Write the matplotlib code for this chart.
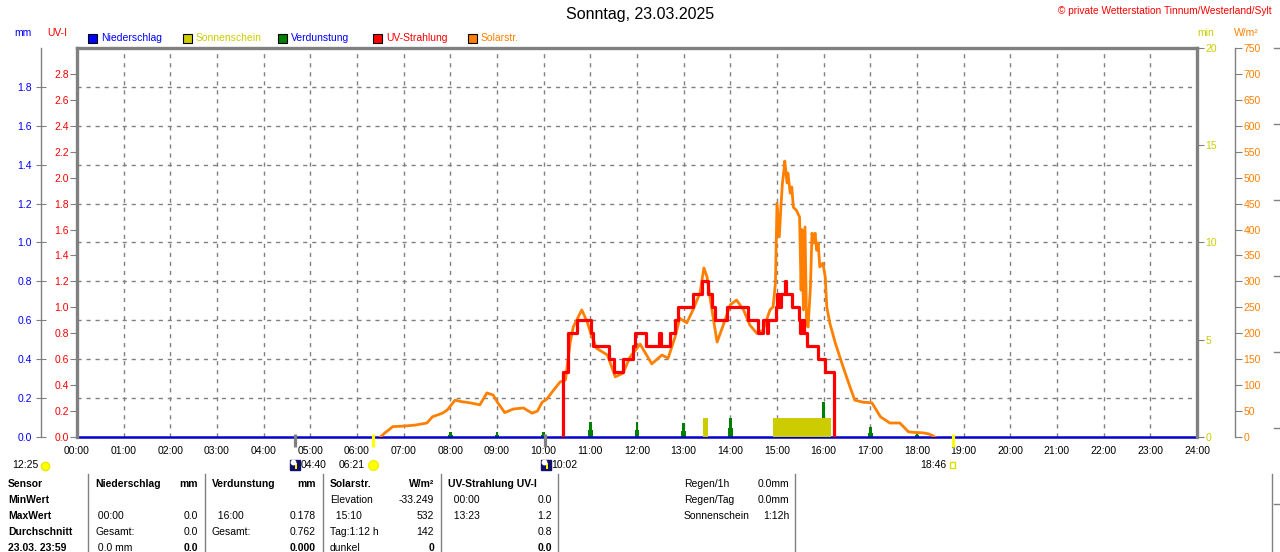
import matplotlib
matplotlib.use("Agg")
import matplotlib.pyplot as plt
import matplotlib.transforms as mtransforms
from matplotlib.lines import Line2D
from matplotlib.patches import Rectangle

plt.rcParams['font.family'] = ['Liberation Sans', 'DejaVu Sans']

# ---------------- data ----------------
hours = list(range(25))
hour_labels = ["%02d:00" % h for h in hours]

uv_times = ['10:24', '10:25', '10:31', '10:43', '11:01', '11:04', '11:24', '11:31', '11:42',
            '11:55', '11:58', '12:11', '12:28', '12:31', '12:42', '12:49', '12:53', '13:12',
            '13:23', '13:31', '13:36', '13:40', '13:56', '14:23', '14:35', '14:42', '14:47',
            '14:49', '14:59', '15:00', '15:03', '15:05', '15:10', '15:12', '15:19', '15:28',
            '15:30', '15:32', '15:35', '15:38', '15:53', '16:02', '16:13', '16:14']
uv_values = [0.0, 0.5, 0.8, 0.9, 0.8, 0.7, 0.6, 0.5, 0.6,
             0.7, 0.8, 0.7, 0.8, 0.7, 0.8, 0.9, 1.0, 1.1,
             1.2, 1.1, 1.0, 0.9, 1.0, 0.9, 0.8, 0.9, 0.8,
             0.9, 1.0, 1.1, 1.0, 1.1, 1.2, 1.1, 1.0, 0.9,
             0.8, 0.9, 0.8, 0.7, 0.6, 0.5, 0.0, 0.0]

solar_times = ['06:30', '06:36', '06:46', '07:00', '07:15', '07:30', '07:37', '07:50', '07:56',
               '08:06', '08:15', '08:25', '08:38', '08:47', '08:55', '09:01', '09:10', '09:21',
               '09:34', '09:45', '09:52', '09:58', '10:04', '10:11', '10:21', '10:28', '10:34',
               '10:38', '10:49', '10:56', '11:00', '11:08', '11:22', '11:32', '11:42', '11:51',
               '12:04', '12:19', '12:32', '12:40', '12:49', '12:55', '13:04', '13:12', '13:21',
               '13:26', '13:30', '13:34', '13:39', '13:43', '13:50', '14:00', '14:08', '14:17',
               '14:25', '14:34', '14:42', '14:51', '14:55', '14:58', '15:00', '15:03', '15:05',
               '15:07', '15:09', '15:10', '15:13', '15:14', '15:17', '15:19', '15:21', '15:25',
               '15:29', '15:31', '15:32', '15:34', '15:36', '15:38', '15:40', '15:43', '15:45',
               '15:47', '15:49', '15:51', '15:53', '15:55', '15:59', '16:02', '16:04', '16:08',
               '16:15', '16:25', '16:34', '16:40', '16:51', '17:02', '17:13', '17:25', '17:38',
               '17:49', '17:55', '18:08', '18:15', '18:21', '18:23']
solar_values = [0, 8, 20, 21, 23, 27, 39, 46, 52,
                71, 68, 66, 62, 85, 81, 66, 47, 54,
                56, 46, 50, 67, 73, 87, 106, 110, 181,
                212, 245, 222, 202, 171, 158, 116, 123, 154,
                179, 141, 158, 152, 193, 229, 220, 245, 278,
                326, 309, 268, 220, 183, 212, 255, 264, 245,
                216, 200, 206, 245, 251, 297, 451, 386, 443,
                490, 515, 532, 490, 509, 470, 482, 443, 437,
                424, 283, 400, 245, 405, 219, 212, 289, 393,
                374, 393, 360, 374, 328, 335, 309, 251, 219,
                181, 135, 96, 71, 67, 66, 39, 27, 27,
                10, 9, 8, 6, 2, 0]

evap_times = ['08:00', '09:00', '10:00', '11:00', '12:00', '13:00', '14:00', '15:00',
              '16:00', '17:00', '18:00']
evap_values = [0.025, 0.025, 0.025, 0.076, 0.076, 0.074, 0.100, 0.100, 0.178, 0.050, 0.025]

sun_start = ['13:25', '14:55']
sun_end = ['13:31', '16:10']
sun_minutes = [1.0, 1.0]

rain_times = ['00:00', '24:00']
rain_values = [0.0, 0.0]

astro_times = ['04:40', '06:21', '10:02', '18:46']
astro_kinds = ['moonrise', 'sunrise', 'moonset', 'sunset']

# ---------------- helpers ----------------
W, H = 1280, 552


def hm(s):
    h, m = s.split(':')
    return int(h) + int(m) / 60.0


def fx(x):
    return x / W


def fy(y):
    return 1 - y / H


GRAY = '#808080'
RED = '#FF0000'
BLUE = '#0000FF'
OLIVE = '#CCCC00'
ORANGE = '#FF8000'
GREEN = '#008000'
FS = 7.5

fig = plt.figure(figsize=(12.8, 5.52), dpi=100)
fig.patch.set_facecolor('white')

L, R, T, B = 77, 1197, 48, 437
rect = [fx(L), fy(B), (R - L) / W, (B - T) / H]

ax_mm = fig.add_axes(rect, zorder=1)
ax_min = fig.add_axes(rect, zorder=2, sharex=ax_mm)
ax_w = fig.add_axes(rect, zorder=3, sharex=ax_mm)
ax = fig.add_axes(rect, zorder=4, sharex=ax_mm)
for a in (ax_mm, ax_min, ax_w, ax):
    a.patch.set_visible(False)
    for s in a.spines.values():
        s.set_visible(False)
    a.set_xlim(0, 24)
    a.tick_params(axis='x', which='both', length=0, labelbottom=False)

# grid (on lowest axes)
ax_mm.set_ylim(0, 2.0)
for h in range(1, 24):
    ax_mm.axvline(h, color=GRAY, lw=1, ls=(0, (3, 3.5)), zorder=0)
for v in [0.2 * i for i in range(1, 10)]:
    ax_mm.axhline(v, color=GRAY, lw=1, ls=(0, (3, 3.5)), zorder=0)

# mm axis on left at x=41
ax_mm.yaxis.set_ticks_position('left')
ax_mm.spines['left'].set_visible(True)
ax_mm.spines['left'].set_position(('axes', (41 - L) / (R - L)))
ax_mm.spines['left'].set_color(GRAY)
ax_mm.spines['left'].set_linewidth(1)
ax_mm.set_yticks([0.2 * i for i in range(10)])
ax_mm.set_yticklabels(["%.1f" % (0.2 * i) for i in range(10)])
ax_mm.tick_params(axis='y', direction='inout', length=7, color=GRAY, labelcolor=BLUE,
                  labelsize=FS, pad=3)

# evaporation spikes
ev_x = [hm(t) for t in evap_times]
ax_mm.bar(ev_x, [v * 0.45 for v in evap_values], width=0.10, color=GREEN, zorder=3)
ax_mm.bar(ev_x, evap_values, width=0.055, color=GREEN, zorder=3)

# rain line
ax_mm.plot([hm(t) for t in rain_times], rain_values, color='#0000CC', lw=1.8, zorder=6,
           clip_on=False, solid_capstyle='butt')

# sunshine (min axis on right spine)
ax_min.set_ylim(0, 20)
ax_min.bar([hm(s) for s in sun_start], sun_minutes,
           width=[hm(e) - hm(s) for s, e in zip(sun_start, sun_end)],
           align='edge', color=OLIVE, zorder=2)
ax_min.yaxis.set_ticks_position('right')
ax_min.set_yticks([0, 5, 10, 15, 20])
ax_min.tick_params(axis='y', direction='out', length=5, color=GRAY, labelcolor=OLIVE,
                   labelsize=FS, pad=1)

# solar radiation (W/m2 axis at x=1235)
ax_w.set_ylim(0, 750)
ax_w.plot([hm(t) for t in solar_times], solar_values, color=ORANGE, lw=2.0, zorder=3)
ax_w.yaxis.set_ticks_position('right')
ax_w.spines['right'].set_visible(True)
ax_w.spines['right'].set_position(('axes', (1235 - L) / (R - L)))
ax_w.spines['right'].set_color(GRAY)
ax_w.spines['right'].set_linewidth(1)
ax_w.set_yticks(list(range(0, 751, 50)))
ax_w.tick_params(axis='y', direction='out', length=5, color=GRAY, labelcolor=ORANGE,
                 labelsize=FS, pad=1)

# UV (main axis)
ax.set_ylim(0, 3.0)
ax.step([hm(t) for t in uv_times], uv_values, where='post', color=RED, lw=2.3, zorder=4)
ax.yaxis.set_ticks_position('left')
ax.set_yticks([0.2 * i for i in range(15)])
ax.set_yticklabels(["%.1f" % (0.2 * i) for i in range(15)])
ax.tick_params(axis='y', direction='out', length=5, color=GRAY, labelcolor=RED,
               labelsize=FS, pad=1)
for side in ('left', 'top', 'right'):
    ax.spines[side].set_visible(True)
    ax.spines[side].set_color(GRAY)
    ax.spines[side].set_linewidth(2.4)
ax.set_xticks(hours)
ax.set_xticklabels(hour_labels)
ax.tick_params(axis='x', labelbottom=True, labelsize=FS, pad=6.5, length=0)

# astronomical markers on x axis
trans = mtransforms.blended_transform_factory(ax.transData, ax.transAxes)
for t, k in zip(astro_times, astro_kinds):
    c = '#FFFF00' if k.startswith('sun') else GRAY
    ax.plot([hm(t), hm(t)], [0.008, -0.026], transform=trans, color=c, lw=2.3,
            clip_on=False, zorder=7, solid_capstyle='butt')

# ---------------- text ----------------
fig.text(fx(640), fy(15), "Sonntag, 23.03.2025", ha='center', va='center', fontsize=11.5)
fig.text(fx(1272), fy(11), "© private Wetterstation Tinnum/Westerland/Sylt", ha='right',
         va='center', fontsize=7.3, color=RED)

fig.text(fx(14), fy(33), "mm", color=BLUE, fontsize=FS, va='center')
fig.text(fx(47), fy(33), "UV-I", color=RED, fontsize=FS, va='center')
fig.text(fx(1197), fy(33), "min", color=OLIVE, fontsize=FS, va='center')
fig.text(fx(1234), fy(33), "W/m²", color=ORANGE, fontsize=FS, va='center')

legend = [(88, BLUE, "Niederschlag", BLUE), (183, OLIVE, "Sonnenschein", OLIVE),
          (278, GREEN, "Verdunstung", BLUE), (373, RED, "UV-Strahlung", RED),
          (468, ORANGE, "Solarstr.", ORANGE)]
for x0, fc, label, tc in legend:
    fig.patches.append(Rectangle((fx(x0), fy(43)), 9 / W, 9 / H, transform=fig.transFigure,
                                 facecolor=fc, edgecolor='black', lw=0.8))
    fig.text(fx(x0 + 13), fy(38), label, color=tc, fontsize=FS, va='center')

# right decorative axis ticks
for y in [48, 124, 200, 276, 352, 428, 504]:
    fig.lines.append(Line2D([fx(1274), fx(1280)], [fy(y), fy(y)], transform=fig.transFigure,
                            color=GRAY, lw=1))

# sun / moon info line
YI = 465
fig.text(fx(12), fy(YI), "12:25", fontsize=FS, va='center')
fig.lines.append(Line2D([fx(45)], [fy(YI + 1)], transform=fig.transFigure, marker='o',
                        markersize=6, markerfacecolor='#FFFF00', markeredgecolor='#E8E800',
                        lw=0))
for x0 in (290, 541):
    fig.patches.append(Rectangle((fx(x0), fy(YI + 5)), 10 / W, 10 / H, transform=fig.transFigure,
                                 facecolor='#10106A', edgecolor='#10106A'))
    fig.lines.append(Line2D([fx(x0 + 3)], [fy(YI - 3)], transform=fig.transFigure, marker='o',
                            markersize=3.2, markerfacecolor='white', markeredgecolor='white',
                            lw=0))
    fig.patches.append(Rectangle((fx(x0 + 5), fy(YI + 4)), 2 / W, 6 / H,
                                 transform=fig.transFigure, facecolor='#FFFF00',
                                 edgecolor='none'))
fig.text(fx(301), fy(YI), "04:40", fontsize=FS, va='center')
fig.text(fx(551), fy(YI), "10:02", fontsize=FS, va='center')
fig.text(fx(365), fy(YI), "06:21", fontsize=FS, va='center', ha='right')
fig.lines.append(Line2D([fx(373)], [fy(YI)], transform=fig.transFigure, marker='o',
                        markersize=7, markerfacecolor='#FFFF00', markeredgecolor='#F0F000',
                        lw=0))
fig.text(fx(946), fy(YI), "18:46", fontsize=FS, va='center', ha='right')
fig.patches.append(Rectangle((fx(950), fy(YI + 3)), 5 / W, 6 / H, transform=fig.transFigure,
                             facecolor='white', edgecolor='#E0E000', lw=1))

# table separators
for x0 in [88, 205, 323, 441, 558, 795, 1272]:
    fig.lines.append(Line2D([fx(x0), fx(x0)], [fy(474), fy(552)], transform=fig.transFigure,
                            color=GRAY, lw=1))

rows_y = [484, 500, 516, 532, 548]
row_heads = ["Sensor", "MinWert", "MaxWert", "Durchschnitt", "23.03. 23:59"]
for y, txt in zip(rows_y, row_heads):
    fig.text(fx(8), fy(y), txt, fontsize=FS, fontweight='bold', va='center')

# (x_left, x_right, [(left text, right text, bold)])
cells = [
    (95, 198, [("Niederschlag", "mm", True), ("", "", False), (" 00:00", "0.0", False),
               ("Gesamt:", "0.0", False), (" 0.0 mm", "0.0", 'right')]),
    (212, 316, [("Verdunstung", "mm", True), ("", "", False), ("  16:00", "0.178", False),
                ("Gesamt:", "0.762", False), ("", "0.000", 'right')]),
    (330, 434, [("Solarstr.", "W/m²", True), ("Elevation", "-33.249", False),
                ("  15:10", "532", False), ("Tag:1:12 h", "142", False),
                ("dunkel", "0", 'right')]),
    (448, 552, [("UV-Strahlung UV-I", "", True), ("  00:00", "0.0", False),
                ("  13:23", "1.2", False), ("", "0.8", False), ("", "0.0", 'right')]),
]
for xl, xr, entries in cells:
    for y, (lt, rt, bold) in zip(rows_y, entries):
        if lt:
            fig.text(fx(xl), fy(y), lt, fontsize=FS, va='center',
                     fontweight='bold' if bold is True else 'normal')
        if rt:
            fig.text(fx(xr), fy(y), rt, fontsize=FS, va='center', ha='right',
                     fontweight='bold' if bold else 'normal')

extra = [("Regen/1h", "0.0mm"), ("Regen/Tag", "0.0mm"), ("Sonnenschein", "1:12h")]
for y, (lt, rt) in zip(rows_y, extra):
    fig.text(fx(684), fy(y), lt, fontsize=FS, va='center')
    fig.text(fx(789), fy(y), rt, fontsize=FS, va='center', ha='right')

fig.savefig("out.png", dpi=100, facecolor='white')
